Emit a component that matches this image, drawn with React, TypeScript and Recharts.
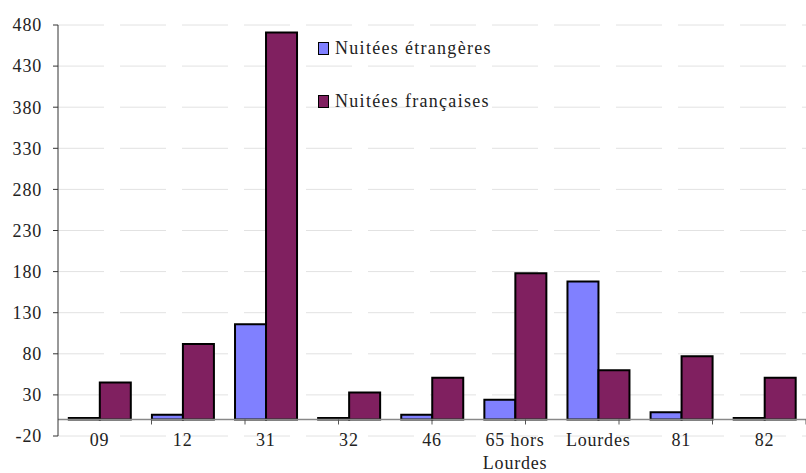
import { Bar, BarChart, CartesianGrid, ReferenceLine, XAxis, YAxis } from "recharts";

const categories = ["09", "12", "31", "32", "46", "65 hors Lourdes", "Lourdes", "81", "82"];
const etrangeres = [2, 6, 116, 2, 6, 24, 168, 9, 2];
const francaises = [45, 92, 471, 33, 51, 178, 60, 77, 51];
const yTicks = [-20, 30, 80, 130, 180, 230, 280, 330, 380, 430, 480];

const BLUE = "#8080ff";
const PURPLE = "#802060";
const FONT = "'Liberation Serif', 'DejaVu Serif', serif";

const data = categories.map((name, i) => ({
  name,
  etr: etrangeres[i],
  fra: francaises[i],
}));

// category boundaries, for the small ticks hanging under the zero line
const boundaries = categories.map((_, i) => i).slice(1);

function CategoryTick(props: any) {
  const { x, y, payload } = props;
  const words = String(payload.value).split(" ");
  const lines = words.length > 2 ? [words.slice(0, 2).join(" "), words.slice(2).join(" ")] : [payload.value];
  return (
    <text x={x} y={y} textAnchor="middle" fill="#222" fontSize={18} fontFamily={FONT} letterSpacing={0.8}>
      {lines.map((l: string, i: number) => (
        <tspan key={i} x={x} dy={i === 0 ? 2 : 23}>
          {l}
        </tspan>
      ))}
    </text>
  );
}

function LegendBox() {
  const items = [
    { label: "Nuitées étrangères", color: BLUE },
    { label: "Nuitées françaises", color: PURPLE },
  ];
  return (
    <div
      style={{
        position: "absolute",
        left: 318,
        top: 36,
        fontFamily: FONT,
        fontSize: 18,
        color: "#222",
        letterSpacing: 1.3,
      }}
    >
      {items.map((it, i) => (
        <div key={it.label} style={{ display: "flex", alignItems: "center", height: 24, marginBottom: i === 0 ? 29 : 0 }}>
          <span
            style={{
              display: "inline-block",
              width: 9,
              height: 11,
              background: it.color,
              border: "1.5px solid #000",
              marginRight: 6,
            }}
          />
          <span>{it.label}</span>
        </div>
      ))}
    </div>
  );
}

export default function App() {
  return (
    <div style={{ position: "absolute", left: 0, top: 0, width: 806, height: 473, fontFamily: FONT }}>
      <BarChart
        width={806}
        height={473}
        data={data}
        margin={{ top: 25, right: 0, bottom: 7, left: 8 }}
        barCategoryGap="13%"
        barGap={0}
      >
        <CartesianGrid vertical={false} stroke="#e2e2e2" strokeDasharray="46 16" />
        <XAxis
          dataKey="name"
          axisLine={false}
          tickLine={false}
          height={30}
          interval={0}
          tick={<CategoryTick />}
        />
        <XAxis xAxisId="b" type="number" domain={[0, categories.length]} hide />
        <YAxis
          domain={[-20, 480]}
          ticks={yTicks}
          interval={0}
          width={50}
          axisLine={{ stroke: "#333" }}
          tickLine={{ stroke: "#333" }}
          tickSize={5}
          tickMargin={11}
          tick={{ fill: "#222", fontSize: 18, fontFamily: FONT, letterSpacing: 0.8 }}
        />
        <ReferenceLine y={0} stroke="#888" strokeWidth={1.5} />
        {boundaries.map((b) => (
          <ReferenceLine
            key={b}
            xAxisId="b"
            segment={[
              { x: b, y: 0 },
              { x: b, y: -6 },
            ]}
            stroke="#555"
          />
        ))}
        <Bar dataKey="etr" fill={BLUE} stroke="#000" strokeWidth={2} isAnimationActive={false} />
        <Bar dataKey="fra" fill={PURPLE} stroke="#000" strokeWidth={2} isAnimationActive={false} />
      </BarChart>
      <LegendBox />
    </div>
  );
}
